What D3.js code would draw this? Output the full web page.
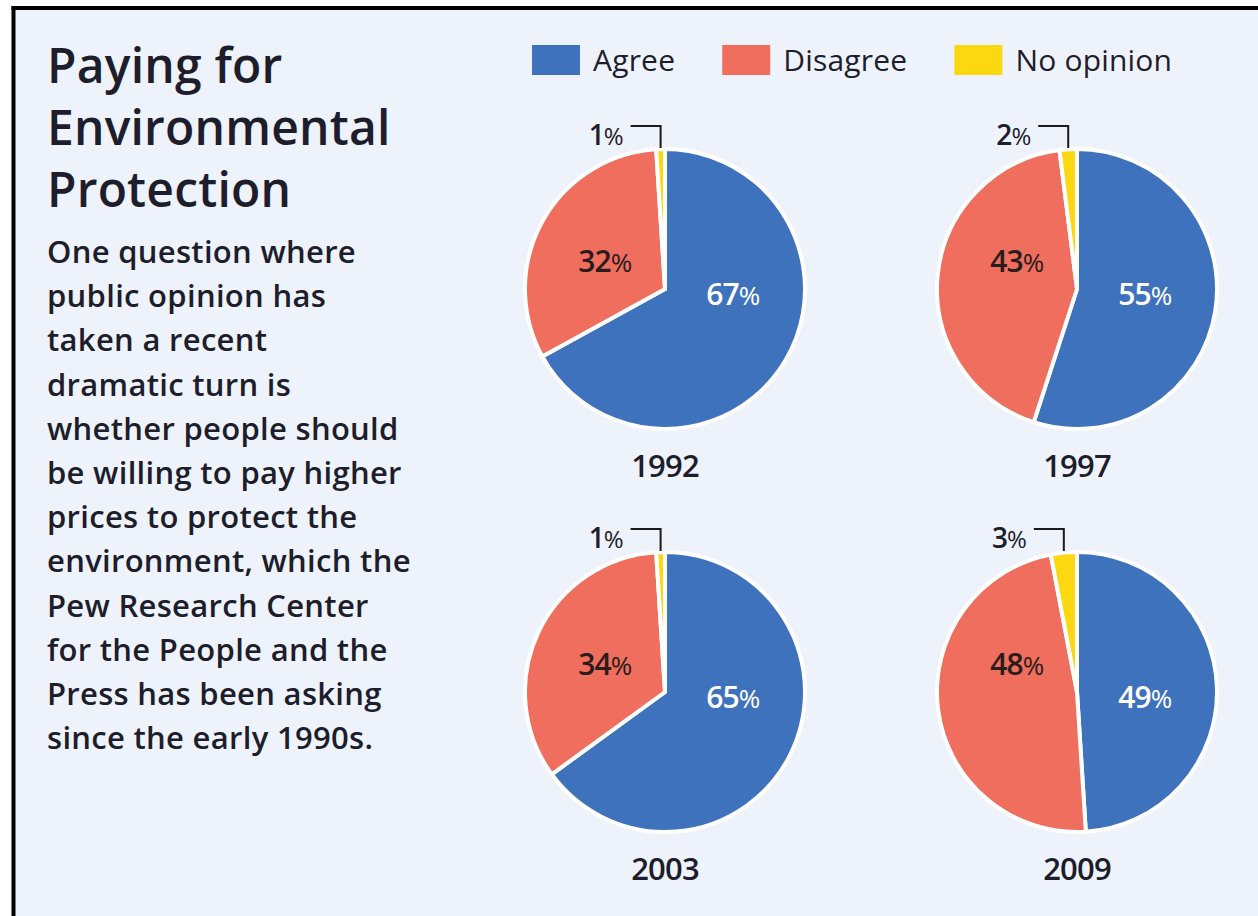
<!DOCTYPE html>
<html>
<head>
<meta charset="utf-8">
<script src="https://cdn.jsdelivr.net/npm/d3@7"></script>
<style>
  html, body { margin: 0; padding: 0; background: #ffffff; }
  svg { display: block; }
  text { font-family: "Open Sans", "Noto Sans", sans-serif; }
</style>
</head>
<body>
<svg id="chart" width="1258" height="916"></svg>
<script>
// Survey results: share of respondents, per survey year
const years      = ["1992", "1997", "2003", "2009"];
const agree      = [67, 55, 65, 49];
const disagree   = [32, 43, 34, 48];
const noOpinion  = [1, 2, 1, 3];
const categories = ["Agree", "Disagree", "No opinion"];

const titleLines = ["Paying for", "Environmental", "Protection"];
const bodyLines = [
  "One question where",
  "public opinion has",
  "taken a recent",
  "dramatic turn is",
  "whether people should",
  "be willing to pay higher",
  "prices to protect the",
  "environment, which the",
  "Pew Research Center",
  "for the People and the",
  "Press has been asking",
  "since the early 1990s."
];

const W = 1258, H = 916;
const svg = d3.select("#chart");

const color = d3.scaleOrdinal()
  .domain(categories)
  .range(["#3f72bd", "#ef6e5d", "#fbd80f"]);

const ink = "#1d1d2b";

// panel background and frame
svg.append("rect").attr("x", 0).attr("y", 0).attr("width", W).attr("height", H).attr("fill", "#ffffff");
svg.append("rect").attr("x", 14).attr("y", 9).attr("width", W - 14).attr("height", H - 9).attr("fill", "#eef2fa");
svg.append("line").attr("x1", 13.5).attr("x2", 13.5).attr("y1", 6).attr("y2", H)
  .attr("stroke", "#000").attr("stroke-width", 4);
svg.append("line").attr("x1", 11.5).attr("x2", W).attr("y1", 8).attr("y2", 8)
  .attr("stroke", "#000").attr("stroke-width", 4);

// title block
const title = svg.append("text")
  .attr("fill", ink)
  .attr("font-size", 48)
  .attr("font-weight", 600)
  .attr("letter-spacing", 0.2);
titleLines.forEach((t, i) => {
  title.append("tspan").attr("x", 47).attr("y", 83 + i * 62).text(t);
});

const body = svg.append("text")
  .attr("fill", ink)
  .attr("font-size", 31)
  .attr("font-weight", 600)
  .attr("letter-spacing", 0.3);
bodyLines.forEach((t, i) => {
  body.append("tspan").attr("x", 47).attr("y", 263 + i * 44.2).text(t);
});

// legend
let lx = 532;
const legend = svg.append("g");
categories.forEach(c => {
  legend.append("rect")
    .attr("x", lx).attr("y", 45).attr("width", 48).attr("height", 30)
    .attr("fill", color(c));
  const t = legend.append("text")
    .attr("x", lx + 61).attr("y", 71)
    .attr("fill", ink)
    .attr("font-size", 30)
    .attr("letter-spacing", 0.2)
    .text(c);
  lx = lx + 61 + t.node().getComputedTextLength() + 47;
});

// one pie per survey year, laid out in a 2x2 grid
const colX = d3.scalePoint().domain([0, 1]).range([665, 1077]);
const rowY = d3.scalePoint().domain([0, 1]).range([289, 692]);
const R = 140;

const pie = d3.pie().sort(null).value(d => d.value);
const arc = d3.arc().innerRadius(0).outerRadius(R);

// fixed label directions for the two large slices (degrees clockwise from 12 o'clock)
const labelDir = { "Agree": { angle: 95, dist: 68, fill: "#ffffff" },
                   "Disagree": { angle: 294, dist: 66, fill: "#2a1c1c" } };

years.forEach((yr, i) => {
  const cx = colX(i % 2), cy = rowY(Math.floor(i / 2));
  const slices = pie([
    { key: "Agree", value: agree[i] },
    { key: "Disagree", value: disagree[i] },
    { key: "No opinion", value: noOpinion[i] }
  ]);
  const g = svg.append("g").attr("transform", `translate(${cx},${cy})`);

  g.selectAll("path").data(slices).join("path")
    .attr("d", arc)
    .attr("fill", d => color(d.data.key))
    .attr("stroke", "#ffffff")
    .attr("stroke-width", 4)
    .attr("stroke-linejoin", "round");

  // percentage labels inside the large slices
  slices.filter(d => labelDir[d.data.key]).forEach(d => {
    const L = labelDir[d.data.key];
    const a = L.angle * Math.PI / 180;
    const t = g.append("text")
      .attr("x", L.dist * Math.sin(a))
      .attr("y", -L.dist * Math.cos(a) + 10)
      .attr("text-anchor", "middle")
      .attr("fill", L.fill)
      .attr("font-size", 30)
      .attr("font-weight", 600)
      .attr("letter-spacing", -1);
    t.append("tspan").text(d.data.value);
    t.append("tspan").attr("font-size", 26).attr("font-weight", 400).text("%");
  });

  // small slice: bracket leader up and left to its label
  const small = slices[2];
  const mid = (small.startAngle + small.endAngle) / 2;
  const x0 = R * Math.sin(mid);
  const yTop = -R - 23;
  g.append("path")
    .attr("d", `M${x0},${-R - 1}V${yTop}H${x0 - 30}`)
    .attr("fill", "none")
    .attr("stroke", "#1a1a1a")
    .attr("stroke-width", 2);
  const st = g.append("text")
    .attr("x", x0 - 38).attr("y", yTop + 19)
    .attr("text-anchor", "end")
    .attr("fill", ink)
    .attr("font-size", 28)
    .attr("font-weight", 600)
    .attr("letter-spacing", -1);
  st.append("tspan").text(small.data.value);
  st.append("tspan").attr("font-size", 24).attr("font-weight", 400).text("%");

  // year label beneath the pie
  g.append("text")
    .attr("x", 0).attr("y", R + 48)
    .attr("text-anchor", "middle")
    .attr("fill", ink)
    .attr("font-size", 31)
    .attr("font-weight", 600)
    .attr("letter-spacing", -0.8)
    .text(yr);
});
</script>
</body>
</html>
